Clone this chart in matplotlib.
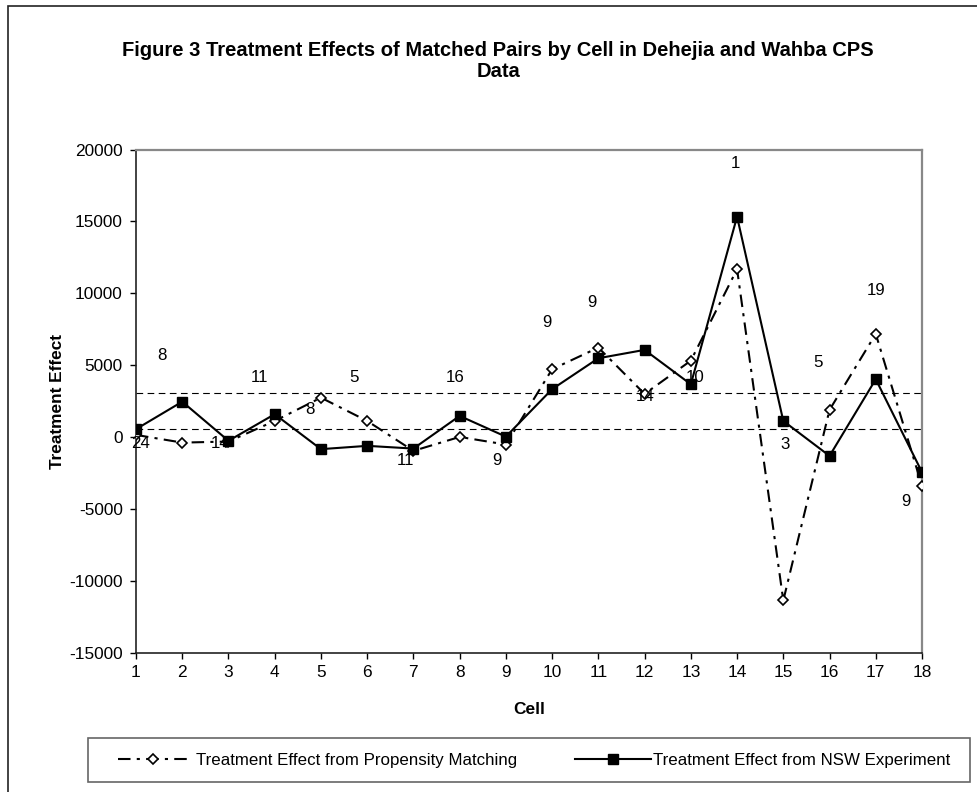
import numpy as np
import matplotlib
matplotlib.use("Agg")
import matplotlib.pyplot as plt
from matplotlib.patches import Rectangle

plt.rcParams['font.family'] = ['Liberation Sans', 'DejaVu Sans']
plt.rcParams['axes.unicode_minus'] = False

# data
cells = list(range(1, 19))
propensity = [160, -375, -300, 1130, 2750, 1130, -950, 20, -510,
              4725, 6230, 3010, 5320, 11680, -11350, 1900, 7180, -3380]
nsw = [560, 2470, -250, 1600, -830, -600, -790, 1480, 40,
       3340, 5490, 6070, 3680, 15330, 1130, -1300, 4030, -2430]
pair_counts = ['24', '8', '14', '11', '8', '5', '11', '16', '9',
               '9', '9', '14', '10', '1', '3', '5', '19', '9']
ref_lines = [3060, 560]

# where each count label sits (data coords)
label_x = [1.09, 1.57, 2.83, 3.67, 4.76, 5.72, 6.82, 7.91, 8.80,
           9.88, 10.87, 12.01, 13.09, 13.97, 15.04, 15.75, 17.01, 17.65]
label_y = [-470, 5650, -470, 4140, 1900, 4140, -1630, 4170, -1630,
           7990, 9350, 2820, 4170, 19040, -490, 5180, 10190, -4480]

W, H = 977, 792
fig = plt.figure(figsize=(W / 100, H / 100), dpi=100)
ax = fig.add_axes([136 / W, 1 - 653 / H, 786 / W, 503.5 / H])

for v in ref_lines:
    ax.axhline(v, color='black', lw=0.8, ls=(0, (6, 4)), zorder=1)

l1, = ax.plot(cells, propensity, color='black', lw=1.5, ls=(0, (6, 3, 1.5, 3)),
              marker='D', markersize=5, markerfacecolor='white',
              markeredgecolor='black', markeredgewidth=1.2, zorder=3)
l2, = ax.plot(cells, nsw, color='black', lw=1.5, ls='-',
              marker='s', markersize=6.5, markerfacecolor='black',
              markeredgecolor='black', zorder=4)

for x, y, t in zip(label_x, label_y, pair_counts):
    ax.text(x, y, t, ha='center', va='center', fontsize=12.2, zorder=5)

ax.set_xlim(1, 18)
ax.set_ylim(-15000, 20000)
ax.set_xticks(cells)
ax.set_yticks(np.arange(-15000, 20001, 5000))
ax.tick_params(axis='both', direction='out', length=4.3, width=1,
               labelsize=12.4, colors='black')
ax.tick_params(axis='y', pad=5.3)
ax.tick_params(axis='x', pad=4.3)

for s in ['left', 'bottom']:
    ax.spines[s].set_color('#222222')
    ax.spines[s].set_linewidth(1.2)
for s in ['top', 'right']:
    ax.spines[s].set_color('#888888')
    ax.spines[s].set_linewidth(1.6)

ax.set_xlabel('Cell', fontsize=12.4, fontweight='bold', va='center')
ax.xaxis.set_label_coords(0.5, -0.113)
ax.set_ylabel('Treatment Effect', fontsize=12.4, fontweight='bold', va='center')
ax.yaxis.set_label_coords(-0.1005, 0.5)

fig.text(498 / W, 1 - 61 / H,
         'Figure 3 Treatment Effects of Matched Pairs by Cell in Dehejia and Wahba CPS\nData',
         ha='center', va='center', fontsize=14.5, fontweight='bold',
         multialignment='center', linespacing=1.15)

# legend: box plus two entries placed like the original
fig.add_artist(Rectangle((88 / W, 1 - 782 / H), 882 / W, 44 / H,
                         transform=fig.transFigure, fill=False,
                         edgecolor='#666666', lw=1.2))
leg_y = 1 - 760 / H
fig.legend([l1], ['Treatment Effect from Propensity Matching'],
           loc='center left', bbox_to_anchor=(118 / W, leg_y),
           frameon=False, borderpad=0, borderaxespad=0,
           fontsize=12.2, handlelength=4.15, handletextpad=0.45)
fig.legend([l2], ['Treatment Effect from NSW Experiment'],
           loc='center left', bbox_to_anchor=(575 / W, leg_y),
           frameon=False, borderpad=0, borderaxespad=0,
           fontsize=12.2, handlelength=4.5, handletextpad=0.1)

# outer chart border
fig.add_artist(Rectangle((8 / W, -0.1), 1.2, 1.1 - 6 / H,
                         transform=fig.transFigure, fill=False,
                         edgecolor='#222222', lw=1.2))

fig.savefig('out.png', dpi=100)
